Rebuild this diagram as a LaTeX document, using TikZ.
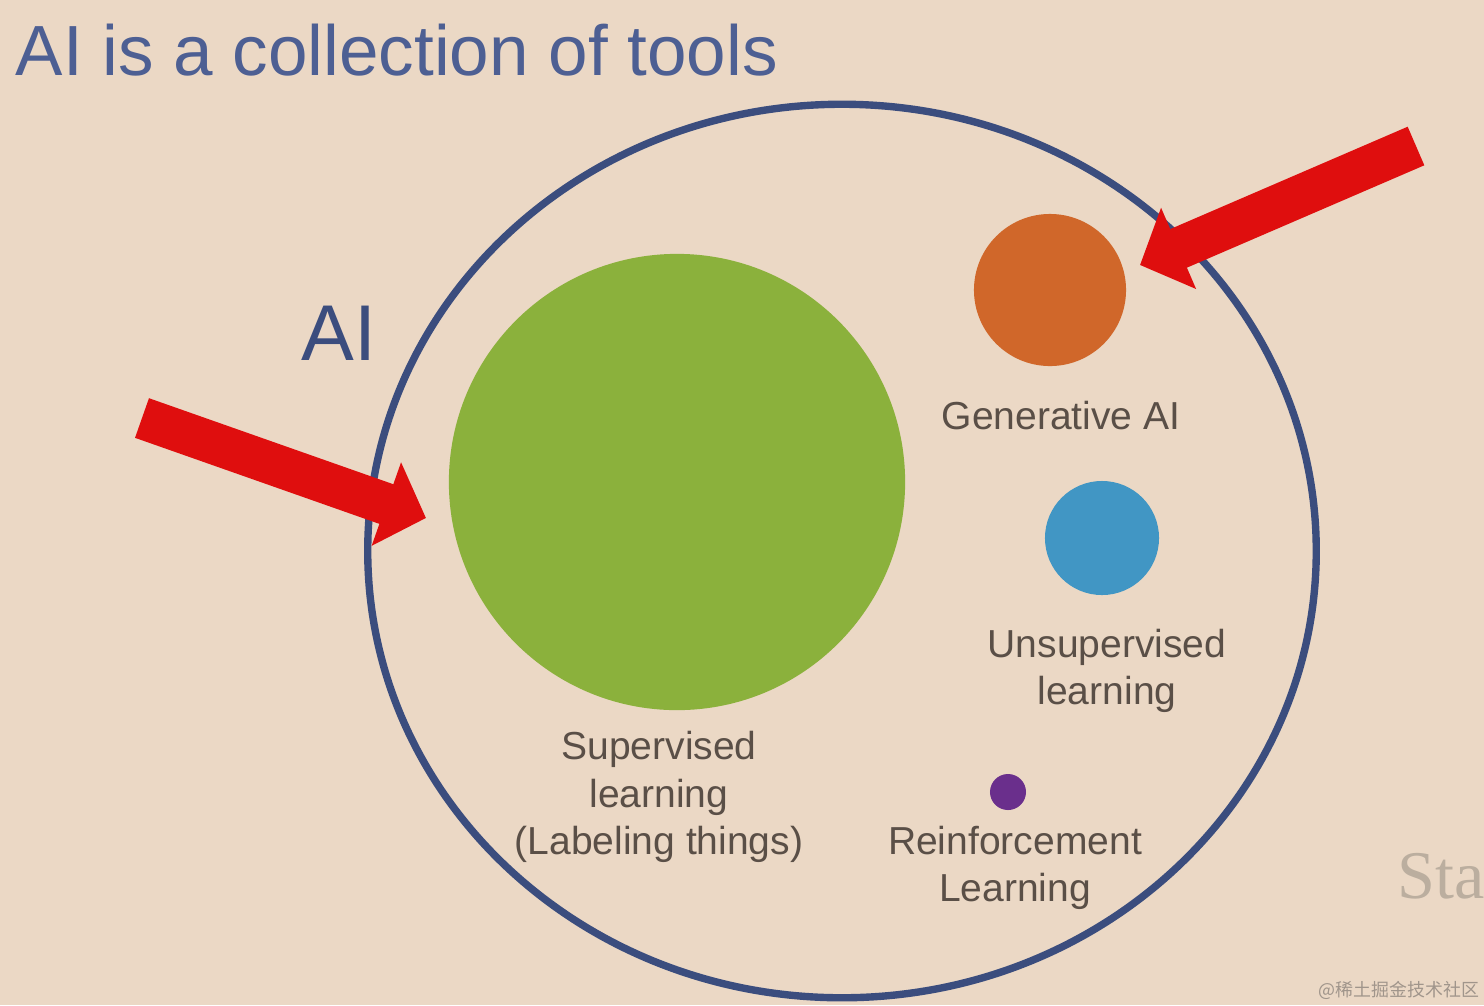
\documentclass[tikz,border=0pt]{standalone}
\usepackage{fontspec}
\setmainfont{Liberation Sans}
\newfontfamily\stafont{Liberation Serif}
\newfontfamily\cjk{Noto Sans CJK SC}
\usetikzlibrary{arrows.meta,shapes.geometric}
\definecolor{bgBeige}{HTML}{EBD8C5}
\definecolor{navyRing}{HTML}{3B4D7E}
\definecolor{titleBlue}{HTML}{4D5F93}
\definecolor{labelGray}{HTML}{5A4F47}
\definecolor{arrowRed}{HTML}{DF0E0E}
\definecolor{supGreen}{HTML}{8BB13C}
\definecolor{genOrange}{HTML}{D0672A}
\definecolor{unsupBlue}{HTML}{4196C4}
\definecolor{reinfPurple}{HTML}{6A2F8C}
\definecolor{staGray}{HTML}{BBAE9F}
\definecolor{markGray}{HTML}{A0958B}
\tikzset{
  ring/.style={ellipse, draw=navyRing, line width=2.1pt, minimum width=9.48cm, minimum height=8.93cm, inner sep=0},
  tool/.style={circle, inner sep=0, draw=none},
  toolLabel/.style={text=labelGray, align=center, inner sep=0, font=\fontsize{11.1}{13.4}\selectfont},
  redArrow/.style={draw=arrowRed, line width=0.42cm, -{Triangle[length=0.42cm, width=0.86cm]}, arrowRed}
}

\begin{document}
\begin{tikzpicture}[x=0.01cm, y=-0.01cm]

\useasboundingbox (0,0) rectangle (1484,1005);
\clip (0,0) rectangle (1484,1005);
\fill[bgBeige] (0,0) rectangle (1484,1005);

% Title
\node[anchor=base west, inner sep=0, text=titleBlue, font=\fontsize{20.2}{24}\selectfont] (title) at (15,75) {AI is a collection of tools};

% Outer AI ring
\node[ring] (ring) at (842,551) {};
\node[anchor=base west, inner sep=0, text=navyRing, font=\fontsize{22.5}{26}\selectfont] (aiLabel) at (301,360) {AI};

% Tools
\node[tool, fill=supGreen, minimum size=4.56cm] (sup) at (677,482) {};
\node[tool, fill=genOrange, minimum size=1.52cm] (gen) at (1050,290) {};
\node[tool, fill=unsupBlue, minimum size=1.14cm] (unsup) at (1102,538) {};
\node[tool, fill=reinfPurple, minimum size=0.36cm] (reinf) at (1008,792) {};

% Labels
\node[toolLabel] (supText) at (659,797) {Supervised\\learning\\(Labeling things)};
\node[toolLabel] (genText) at (1061,416) {Generative AI};
\node[toolLabel] (unsupText) at (1107,671) {Unsupervised\\learning};
\node[toolLabel] (reinfText) at (1015,868) {Reinforcement\\Learning};

% Red arrows
\coordinate (leftTail) at (142,418);
\coordinate (leftTip) at (426,518);
\coordinate (rightTail) at (1416,146);
\coordinate (rightTip) at (1140,265);
\draw[redArrow] (leftTail) -- (leftTip);
\draw[redArrow] (rightTail) -- (rightTip);

% Slide leftovers
\node[anchor=base west, inner sep=0, text=staGray, font=\stafont\fontsize{19.4}{22}\selectfont] (sta) at (1397,898) {Sta};
\node[anchor=base west, inner sep=0, text=markGray, font=\cjk\fontsize{5.1}{6}\selectfont] (mark) at (1318,996) {@稀土掘金技术社区};

\end{tikzpicture}
\end{document}
